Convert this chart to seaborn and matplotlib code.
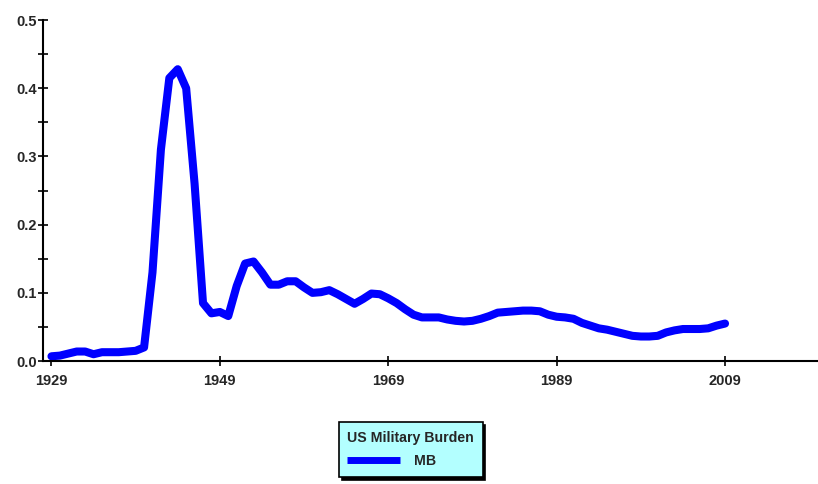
import numpy as np
import pandas as pd
import seaborn as sns
import matplotlib
matplotlib.use('Agg')
import matplotlib.pyplot as plt
from matplotlib.ticker import MultipleLocator

# US military burden, annual 1929-2009
years = list(range(1929, 2010))
mb = [0.007, 0.008, 0.011, 0.014, 0.014, 0.010, 0.013, 0.013, 0.013, 0.014,  # 1929-38
      0.015, 0.02, 0.13, 0.31, 0.415, 0.428, 0.40, 0.26, 0.085, 0.070,       # 1939-48
      0.072, 0.066, 0.11, 0.143, 0.146, 0.13, 0.112, 0.112, 0.117, 0.117,    # 1949-58
      0.108, 0.100, 0.101, 0.104, 0.098, 0.091, 0.084, 0.091, 0.099, 0.098,  # 1959-68
      0.092, 0.085, 0.076, 0.068, 0.064, 0.064, 0.064, 0.061, 0.059, 0.058,  # 1969-78
      0.059, 0.062, 0.066, 0.071, 0.072, 0.073, 0.074, 0.074, 0.073, 0.068,  # 1979-88
      0.065, 0.064, 0.062, 0.056, 0.052, 0.048, 0.046, 0.043, 0.040, 0.037,  # 1989-98
      0.036, 0.036, 0.037, 0.042, 0.045, 0.047, 0.047, 0.047, 0.048, 0.052,  # 1999-2008
      0.055]                                                                 # 2009
xticks = [1929, 1949, 1969, 1989, 2009]
yticks = [0.0, 0.1, 0.2, 0.3, 0.4, 0.5]

df = pd.DataFrame({'year': years, 'MB': mb})

sns.set_style('ticks')
plt.rcParams['font.family'] = ['Liberation Sans', 'DejaVu Sans']
plt.rcParams['font.weight'] = 'bold'

fig = plt.figure(figsize=(8.18, 4.84), dpi=100)
ax = fig.add_axes([0.0526, 0.254, 0.947, 0.7045])

sns.lineplot(data=df, x='year', y='MB', ax=ax, color='#0000ff', lw=5.8,
             label='MB', solid_joinstyle='round', solid_capstyle='round')

ax.set_xlim(1928, 2020)
ax.set_xticks(xticks)
ax.set_xticklabels([str(t) for t in xticks], fontsize=10.5, fontweight='bold')
ax.set_yticks(yticks)
ax.set_yticklabels(['%.1f' % v for v in yticks], fontsize=10.5, fontweight='bold')
ax.yaxis.set_minor_locator(MultipleLocator(0.05))
ax.set_ylim(0, 0.5)
ax.tick_params(axis='both', which='both', direction='inout', color='black',
               width=1.2, length=7.2)
ax.tick_params(axis='x', pad=6)
ax.tick_params(axis='y', pad=1)
ax.set_xlabel('')
ax.set_ylabel('')
for s in ['top', 'right']:
    ax.spines[s].set_visible(False)
for s in ['left', 'bottom']:
    ax.spines[s].set_linewidth(1.5)
    ax.spines[s].set_color('black')

ax.get_legend().remove()
h, l = ax.get_legend_handles_labels()
leg = fig.legend(h, l, title='US Military Burden', loc='center',
                 bbox_to_anchor=(0.502, 0.0713), frameon=True, fancybox=False,
                 shadow={'color': 'black', 'alpha': 1}, facecolor='#b3ffff',
                 edgecolor='black', framealpha=1, fontsize=10.2,
                 title_fontproperties={'weight': 'bold', 'size': 10.2},
                 handlelength=3.7, borderpad=0.6, handletextpad=1.0,
                 labelspacing=0.7, alignment='left')
leg.get_frame().set_linewidth(1.2)
for line in leg.get_lines():
    line.set_linewidth(5)
    line.set_solid_capstyle('butt')

fig.savefig('out.png', dpi=100)
